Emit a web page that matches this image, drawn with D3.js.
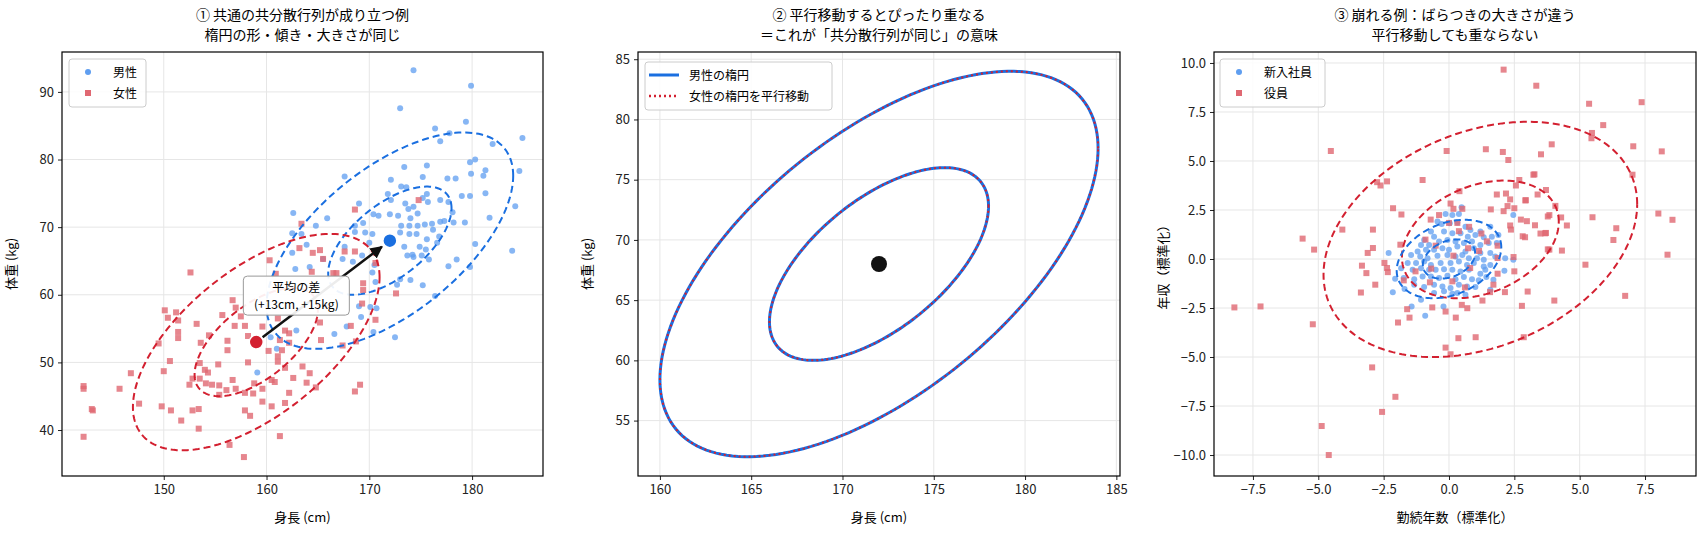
<!DOCTYPE html>
<html><head><meta charset="utf-8">
<script src="https://cdn.jsdelivr.net/npm/d3@7"></script>
<style>body{margin:0;background:#fff}text{font-family:"Noto Sans CJK JP","Noto Sans",sans-serif}</style>
</head><body><svg id="c" width="1704" height="538"></svg>
<script>
const maleH=[174.3,179.9,173.0,179.4,176.4,177.8,176.9,182.0,180.3,179.8,173.4,175.6,181.3,167.6,172.1,175.2,177.6,178.4,179.9,181.1,173.1,173.6,171.8,175.6,179.0,179.8,181.3,169.0,172.1,173.5,175.2,175.7,176.9,177.7,174.3,173.8,174.7,178.1,162.6,165.9,164.8,170.4,170.9,172.0,172.8,174.0,176.9,177.3,178.2,179.3,168.6,169.4,173.1,173.9,174.7,175.4,176.1,162.5,168.6,169.6,170.3,173.0,173.9,174.6,176.2,176.8,163.9,163.4,175.6,176.6,180.3,170.0,167.6,173.4,174.9,175.5,173.7,174.2,175.1,175.8,162.5,165.5,167.4,168.4,169.3,174.3,177.7,178.5,179.8,162.8,164.2,170.3,170.5,173.0,174.0,175.2,176.4,172.7,170.6,169.0,170.1,170.7,169.2,166.6,167.8,170.4,172.5,162.9,161.0,160.4,159.1,181.7,184.9,184.6,184.2,183.9];
const maleW=[93.2,90.9,87.6,85.6,84.6,83.9,82.7,82.3,80.0,79.6,78.9,79.1,78.4,77.5,77.0,77.4,77.2,77.2,77.9,77.6,76.0,75.9,74.9,74.9,74.6,74.6,75.0,73.5,74.0,73.5,74.3,73.7,74.0,73.7,73.0,72.7,72.0,72.2,72.1,71.3,70.2,71.9,71.7,71.9,71.7,71.3,70.8,70.9,70.7,70.7,70.2,70.6,70.2,70.2,70.2,70.4,70.5,69.1,69.3,69.2,69.0,69.2,69.0,69.0,69.6,68.6,67.4,69.0,68.2,67.7,67.5,67.7,67.1,67.1,67.1,66.7,65.8,65.9,65.8,65.2,66.2,65.3,65.3,64.9,65.8,65.6,64.2,65.2,64.1,63.8,64.1,63.3,64.4,62.3,62.2,61.4,59.8,61.5,61.9,58.3,58.2,58.0,56.7,54.2,55.3,54.5,53.7,54.7,52.0,53.7,48.5,71.4,83.2,78.3,73.1,66.5];
const femH=[152.6,174.8,168.6,163.4,163.2,164.5,165.2,160.3,165.5,167.6,168.6,170.6,166.5,166.8,160.9,164.4,169.4,169.4,172.6,169.3,166.0,150.1,150.4,151.2,151.4,153.2,155.7,156.7,157.0,157.5,157.9,156.9,158.2,159.6,161.1,161.8,162.2,161.3,162.2,165.2,165.3,167.4,168.7,170.6,168.2,149.5,151.4,151.4,153.6,154.4,156.2,156.2,158.2,160.2,161.1,161.5,161.1,161.8,163.5,164.2,162.6,163.9,164.8,162.2,160.5,160.8,159.6,158.7,157.9,157.0,156.1,155.4,154.7,154.1,153.5,152.5,152.8,153.5,155.3,156.7,154.3,154.0,150.6,150.0,146.8,145.7,142.2,143.1,147.6,149.8,150.7,151.7,152.8,153.4,157.9,158.4,159.6,160.5,161.8,168.6,158.8,169.1,155.4,153.4,156.4,157.8,142.2,143.0,142.2,161.3];
const femW=[63.3,74.0,72.6,70.5,66.9,66.2,66.6,65.1,65.3,66.4,66.4,64.7,63.2,63.2,63.1,63.4,61.7,60.7,60.2,58.7,58.3,57.7,56.6,57.4,56.2,55.7,57.0,59.2,58.1,56.8,55.4,55.4,53.9,55.3,56.5,54.7,54.3,53.3,52.9,55.9,53.3,52.5,53.1,56.3,55.4,52.8,54.5,53.6,52.9,54.0,53.2,51.8,50.0,51.7,50.9,51.8,50.1,49.2,49.4,48.4,47.7,47.0,46.3,45.5,47.4,47.1,46.1,45.4,45.5,46.1,45.9,46.6,46.7,46.9,47.6,46.7,47.6,49.9,49.7,47.4,48.5,48.9,50.2,48.7,48.4,46.1,46.1,42.9,43.9,43.5,42.9,41.4,42.9,43.1,42.9,42.1,44.2,43.5,44.0,45.7,46.9,46.7,45.2,40.2,37.8,36.0,39.0,43.1,46.5,39.1];
const newX=[0.48,2.46,-0.13,0.13,0.38,-0.44,-0.28,0.03,0.32,0.63,0.82,1.20,1.58,-0.69,-0.57,-0.19,0.13,0.44,0.72,1.01,1.33,1.64,1.89,-0.95,-1.07,-0.76,-0.38,-0.06,0.25,0.57,0.88,1.20,1.52,1.83,-1.20,-0.88,-0.57,-0.25,0,0.32,0.63,0.95,1.20,1.58,2.15,2.46,-2.31,-1.45,-1.10,-0.82,-0.44,-0.06,0.25,0.51,0.76,1.07,1.33,1.77,-1.58,-1.26,-0.95,-0.69,-0.32,0.06,0.38,0.69,0.95,1.33,1.58,2.12,-1.83,-1.39,-1.07,-0.76,-0.51,-0.19,0.13,0.44,0.76,1.20,1.39,-2.06,-1.73,-1.33,-1.01,-0.69,-0.38,-0.06,0.25,0.57,0.88,1.14,1.43,1.70,-2.15,-1.70,-1.33,-0.95,-0.57,-0.25,0.06,0.38,0.69,1.01,1.58,-1.07,-0.57,-0.19,0.13,-1.43,-0.21,-0.91,0.32,0.63];
const newY=[2.64,2.25,2.30,2.25,2.30,1.91,1.79,1.82,1.86,1.65,1.48,1.40,1.65,1.40,1.14,1.40,1.31,1.31,1.14,1.23,1.11,1.14,1.23,0.97,0.72,0.72,0.89,0.97,0.89,0.81,0.89,0.72,0.81,0.81,0.38,0.47,0.47,0.55,0.47,0.64,0.38,0.55,0.30,0.30,0.04,-0.04,0.30,0.21,0.13,0.04,0.16,0.21,0.13,0.21,0.04,0.04,-0.04,0.13,-0.21,-0.21,-0.13,-0.30,-0.21,-0.21,-0.13,-0.30,-0.21,-0.38,-0.30,-0.60,-0.47,-0.55,-0.47,-0.55,-0.55,-0.52,-0.55,-0.64,-0.55,-0.75,-0.55,-1.01,-0.97,-1.03,-0.89,-0.89,-0.97,-0.86,-1.03,-0.92,-1.03,-1.09,-0.92,-1.06,-1.69,-1.53,-1.31,-1.43,-1.31,-1.40,-1.48,-1.31,-1.40,-1.43,-1.57,-2.08,-1.74,-1.65,-1.77,-2.42,-2.42,-2.89,-1.74,-1.82];
const exX=[2.09,3.34,-4.52,-0.09,1.41,2.06,2.27,3.52,3.93,-2.75,-2.62,-2.37,-1.01,2.69,2.56,3.27,3.39,3.71,1.83,2.18,0.40,2.34,2.94,2.24,2.50,1.60,0.06,0.17,0.51,-2.14,-1.82,-0.70,-0.38,0,0.32,0.77,0.38,-4.08,-2.91,2.09,2.75,2.98,3.29,3.84,2.34,2.37,2.82,2.91,3.50,3.71,3.84,1.24,1.45,1.86,1.86,2.47,2.50,1.86,0.73,1.15,0.17,0.81,-5.60,-5.16,-2.91,-3.11,-1.86,-0.90,-0.51,-3.33,-2.47,-2.37,-2.34,-3.16,-1.73,-1.28,-0.68,-0.73,0.13,0.61,1.28,1.57,1.70,2.14,3.01,4.03,2.79,-3.37,-2.82,-1.60,-1.51,-1.95,-0.64,-0.13,0.26,0.49,0.70,-8.21,-7.21,-5.21,0.36,1.02,-0.13,0.06,2.86,-2.94,-2.05,-2.56,-4.87,-4.60,5.36,7.37,5.90,5.47,5.45,7.05,8.14,7.02,5.49,8.01,8.55,6.40,6.29,4.51,4.32,8.36,5.22,6.74,3.78,4.29,4.07,3.68,3.78,3.23,2.92];
const exY=[9.66,8.84,5.51,5.51,5.60,5.46,5.05,5.34,5.85,3.92,3.75,3.96,4.03,4.03,3.75,4.32,3.29,3.52,3.29,3.34,3.46,3.04,3.00,2.70,2.59,2.53,2.83,2.56,2.56,2.59,2.27,2.01,2.24,1.84,1.84,1.64,1.42,1.50,1.50,2.44,2.01,1.93,1.72,2.24,1.71,1.50,1.16,1.11,1.30,1.33,0.48,1.30,0.90,0.68,0.05,0.10,-0.63,-0.75,0.55,0.41,0.17,-0.46,1.04,0.48,0.56,0.31,0.73,0.99,0.68,-0.34,-0.20,-0.46,-0.67,-0.72,-1.09,-0.63,-0.49,-1.19,-1.14,-1.45,-2.12,-1.69,-1.31,-1.69,-1.66,-2.12,-2.39,-1.71,-1.31,-2.56,-2.99,-3.24,-2.47,-2.68,-2.99,-2.34,-2.51,-2.47,-2.42,-3.33,-4.04,-3.99,-4.52,-4.86,-3.99,-5.53,-7.03,-7.80,-8.52,-10.0,7.92,8.00,6.83,6.43,6.16,5.75,5.49,4.30,2.13,2.32,2.00,1.57,0.97,1.71,0.43,0.22,-0.29,-1.88,2.17,2.12,2.71,1.31,0.49,4.30,2.99];
// ellipse parameters (mean x, mean y, sd x, sd y, correlation)
const maleEll=[172,68,6,8,0.6], femEll=[159,53,6,8,0.6];
const newEll=[0,0,1,1,0.3], exEll=[1.2,1.0,3,3,0.3];
const ellK=[1,2];
const titles=[["① 共通の共分散行列が成り立つ例","楕円の形・傾き・大きさが同じ"],["② 平行移動するとぴったり重なる","＝これが「共分散行列が同じ」の意味"],["③ 崩れる例：ばらつきの大きさが違う","平行移動しても重ならない"]];
const xTicks1=[150,160,170,180], yTicks1=[40,50,60,70,80,90];
const xTicks2=[160,165,170,175,180,185], yTicks2=[55,60,65,70,75,80,85];
const ticks3=[-10,-7.5,-5,-2.5,0,2.5,5,7.5,10];

const svg=d3.select("#c");
const T=52,B=476;
const BL="#1a6fe0",RD="#d32030",BLp="#5f9ef0",RDp="#e06872";
function ellPts(e,k){const [mx,my,sx,sy,r]=e;return d3.range(0,361,2).map(a=>{const t=a*Math.PI/180;return [mx+k*sx*Math.cos(t),my+k*sy*(r*Math.cos(t)+Math.sqrt(1-r*r)*Math.sin(t))];});}
function panel(L,R,xd,yd,xt,yt,fmt,title,xl,yl){
  const x=d3.scaleLinear().domain(xd).range([L,R]),y=d3.scaleLinear().domain(yd).range([B,T]);
  const g=svg.append("g");
  g.append("g").selectAll("line").data(xt.filter(v=>x(v)>=L&&x(v)<=R)).join("line").attr("x1",d=>x(d)).attr("x2",d=>x(d)).attr("y1",T).attr("y2",B).attr("stroke","#e6e6e6");
  g.append("g").selectAll("line").data(yt.filter(v=>y(v)>=T&&y(v)<=B)).join("line").attr("y1",d=>y(d)).attr("y2",d=>y(d)).attr("x1",L).attr("x2",R).attr("stroke","#e6e6e6");
  const ax=g.append("g").attr("transform",`translate(0,${B})`).call(d3.axisBottom(x).tickValues(xt.filter(v=>x(v)>=L&&x(v)<=R)).tickFormat(fmt).tickSize(4).tickPadding(5));
  const ay=g.append("g").attr("transform",`translate(${L},0)`).call(d3.axisLeft(y).tickValues(yt.filter(v=>y(v)>=T&&y(v)<=B)).tickFormat(fmt).tickSize(4).tickPadding(4));
  [ax,ay].forEach(a=>{a.select(".domain").remove();a.selectAll("text").attr("font-size",13).attr("fill","#222").attr("font-family","Noto Sans CJK JP");a.selectAll("line").attr("stroke","#222");});
  svg.append("text").attr("x",(L+R)/2).attr("y",20).attr("text-anchor","middle").attr("font-size",14).text(title[0]);
  svg.append("text").attr("x",(L+R)/2).attr("y",40).attr("text-anchor","middle").attr("font-size",14).text(title[1]);
  svg.append("text").attr("x",(L+R)/2).attr("y",522).attr("text-anchor","middle").attr("font-size",13).text(xl);
  svg.append("text").attr("transform",`translate(${L-46},${(T+B)/2}) rotate(-90)`).attr("text-anchor","middle").attr("font-size",13).text(yl);
  const clip="c"+L;svg.append("clipPath").attr("id",clip).append("rect").attr("x",L).attr("y",T).attr("width",R-L).attr("height",B-T);
  const p=svg.append("g").attr("clip-path",`url(#${clip})`);
  return {x,y,p,L,R,frame(){svg.append("rect").attr("x",L).attr("y",T).attr("width",R-L).attr("height",B-T).attr("fill","none").attr("stroke","#000").attr("stroke-width",1.2);}};
}
function scatter(P,xs,ys,kind){
  if(kind==="c") P.p.append("g").selectAll("circle").data(xs).join("circle").attr("cx",(d)=>P.x(d)).attr("cy",(d,i)=>P.y(ys[i])).attr("r",3).attr("fill",BLp).attr("fill-opacity",0.75);
  else P.p.append("g").selectAll("rect").data(xs).join("rect").attr("x",d=>P.x(d)-3).attr("y",(d,i)=>P.y(ys[i])-3).attr("width",6).attr("height",6).attr("fill",RDp).attr("fill-opacity",0.8);
}
function ell(P,e,k,col,w,dash){const line=d3.line().x(d=>P.x(d[0])).y(d=>P.y(d[1]));P.p.append("path").attr("d",line(ellPts(e,k))).attr("fill","none").attr("stroke",col).attr("stroke-width",w).attr("stroke-dasharray",dash);}
function legend(x0,y0,w,items){
  svg.append("rect").attr("x",x0).attr("y",y0).attr("width",w).attr("height",items.length*21+6).attr("rx",3).attr("fill","#fff").attr("fill-opacity",0.85).attr("stroke","#ccc");
  items.forEach((it,i)=>{const cy=y0+13+i*21;
    if(it.t==="c")svg.append("circle").attr("cx",x0+19).attr("cy",cy).attr("r",3).attr("fill",BLp);
    else if(it.t==="s")svg.append("rect").attr("x",x0+16).attr("y",cy-3).attr("width",6).attr("height",6).attr("fill",RDp);
    else svg.append("line").attr("x1",x0+4).attr("x2",x0+34).attr("y1",cy).attr("y2",cy).attr("stroke",it.col).attr("stroke-width",it.w).attr("stroke-dasharray",it.dash);
    svg.append("text").attr("x",x0+(it.t==="l"?44:44)).attr("y",cy+4.5).attr("font-size",12).text(it.label);});
}
// Panel 1
const P1=panel(62,543,[140.1,186.9],[33.2,95.9],xTicks1,yTicks1,d3.format("d"),titles[0],"身長 (cm)","体重 (kg)");
scatter(P1,maleH,maleW,"c");scatter(P1,femH,femW,"s");
ellK.forEach(k=>{ell(P1,maleEll,k,BL,2,"7,4");ell(P1,femEll,k,RD,2,"7,4");});
P1.p.append("circle").attr("cx",P1.x(maleEll[0])).attr("cy",P1.y(maleEll[1])).attr("r",7).attr("fill",BL).attr("stroke","#fff").attr("stroke-width",1.5);
P1.p.append("circle").attr("cx",P1.x(femEll[0])).attr("cy",P1.y(femEll[1])).attr("r",7).attr("fill",RD).attr("stroke","#fff").attr("stroke-width",1.5);
svg.append("defs").append("marker").attr("id","ah").attr("viewBox","0 0 10 10").attr("refX",9).attr("refY",5).attr("markerWidth",5).attr("markerHeight",5).attr("orient","auto").append("path").attr("d","M0,0L10,5L0,10z").attr("fill","#111");
{const x1=P1.x(femEll[0]),y1=P1.y(femEll[1]),x2=P1.x(maleEll[0]),y2=P1.y(maleEll[1]);const dx=x2-x1,dy=y2-y1,L=Math.hypot(dx,dy);
svg.append("line").attr("x1",x1+dx*8/L).attr("y1",y1+dy*8/L).attr("x2",x2-dx*10/L).attr("y2",y2-dy*10/L).attr("stroke","#111").attr("stroke-width",2.5).attr("marker-end","url(#ah)");}
{const cx=P1.x(162.9),cy=P1.y(59.8);svg.append("rect").attr("x",cx-53).attr("y",cy-20).attr("width",106).attr("height",39).attr("rx",4).attr("fill","#fff").attr("fill-opacity",0.92).attr("stroke","#999");
svg.append("text").attr("x",cx).attr("y",cy-4).attr("text-anchor","middle").attr("font-size",12).text("平均の差");
svg.append("text").attr("x",cx).attr("y",cy+13).attr("text-anchor","middle").attr("font-size",12).text("(+13cm, +15kg)");}
P1.frame();
legend(69,59,77,[{t:"c",label:"男性"},{t:"s",label:"女性"}]);
// Panel 2
const P2=panel(638,1120,[158.8,185.2],[50.4,85.6],xTicks2,yTicks2,d3.format("d"),titles[1],"身長 (cm)","体重 (kg)");
ellK.forEach(k=>ell(P2,maleEll,k,BL,3,null));
ellK.forEach(k=>ell(P2,[maleEll[0],maleEll[1],femEll[2],femEll[3],femEll[4]],k,RD,2,"2,3"));
P2.p.append("circle").attr("cx",P2.x(maleEll[0])).attr("cy",P2.y(maleEll[1])).attr("r",8).attr("fill","#111");
P2.frame();
legend(645,62,187,[{t:"l",col:BL,w:3,dash:null,label:"男性の楕円"},{t:"l",col:RD,w:2.5,dash:"2,3",label:"女性の楕円を平行移動"}]);
// Panel 3
const P3=panel(1214,1696,[-8.99,9.45],[-11.07,10.56],ticks3,ticks3,d3.format(".1f"),titles[2],"勤続年数（標準化）","年収（標準化）");
scatter(P3,newX,newY,"c");scatter(P3,exX,exY,"s");
ellK.forEach(k=>{ell(P3,newEll,k,BL,2,"7,4");ell(P3,exEll,k,RD,2,"7,4");});
P3.frame();
legend(1220,59,105,[{t:"c",label:"新入社員"},{t:"s",label:"役員"}]);
</script></body></html>
